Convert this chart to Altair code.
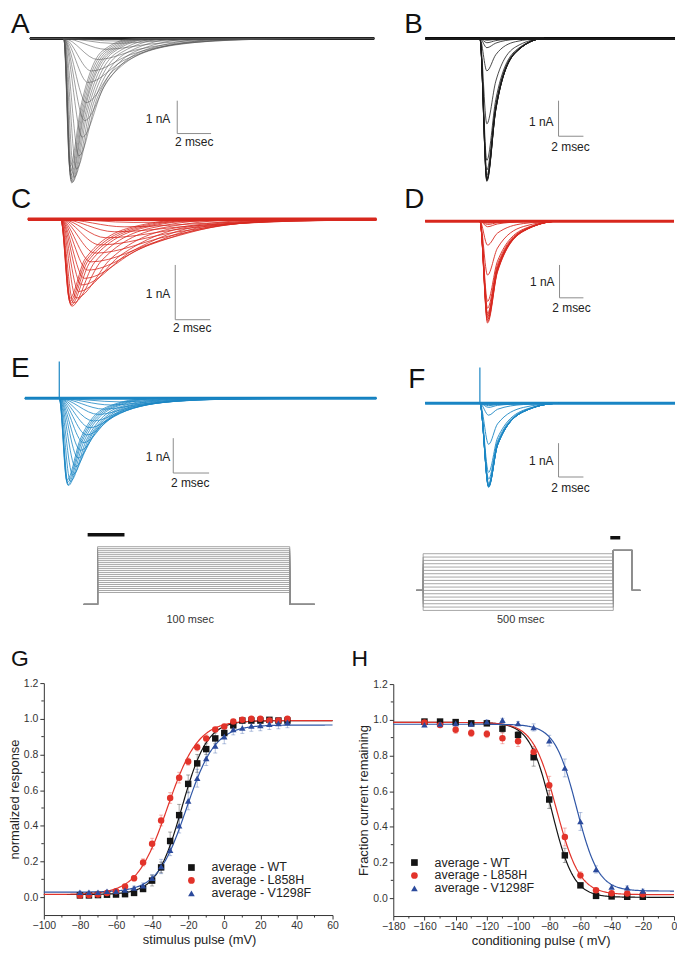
import altair as alt
import numpy as np
import pandas as pd

FONT = "Liberation Sans"

# ======================= DATA =======================
# Activation families (A, C, E): one entry per trace
# peak time after onset (ms), peak inward current (nA),
# time from peak to half decay (ms), time from peak to 10 % (ms)
A_peak_ms = [3.4, 3.2, 2.9, 2.5, 2.0, 1.63, 1.43, 1.33, 1.23, 1.1, 0.9, 0.75, 0.62, 0.52, 0.47, 0.44, 0.42, 0.40, 0.38, 0.36]
A_peak_nA = [0.04, 0.08, 0.15, 0.33, 0.64, 0.99, 1.34, 1.95, 2.5, 3.0, 3.57, 3.97, 4.22, 4.37, 4.40, 4.35, 4.28, 4.18, 4.05, 3.9]
A_half_ms = [3.0, 3.0, 2.9, 2.7, 2.5, 2.3, 2.1, 1.6, 1.4, 1.25, 1.1, 1.0, 0.95, 0.9, 0.85, 0.8, 0.78, 0.75, 0.72, 0.7]
A_tenth_ms = [8.0, 8.0, 7.5, 7.0, 6.8, 6.5, 6.0, 5.3, 4.6, 4.0, 3.5, 3.1, 2.8, 2.6, 2.4, 2.3, 2.2, 2.1, 2.0, 1.9]

C_peak_ms = [4.2, 3.64, 3.07, 2.59, 2.25, 1.98, 1.73, 1.54, 1.35, 1.2, 1.03, 0.88, 0.72, 0.63, 0.58, 0.55, 0.52, 0.5]
C_peak_nA = [0.06, 0.14, 0.23, 0.34, 0.47, 0.62, 0.78, 0.93, 1.08, 1.2, 1.32, 1.44, 1.53, 1.59, 1.57, 1.54, 1.5, 1.45]
C_half_ms = [5.0, 5.0, 4.8, 4.6, 4.4, 4.2, 4.0, 3.6, 3.2, 2.8, 2.4, 2.0, 1.6, 1.3, 1.1, 1.0, 0.95, 0.9]
C_tenth_ms = [11, 11, 10.5, 10, 9.5, 9, 8.5, 8, 7.5, 7, 6.5, 6, 5.2, 4.6, 4.2, 4.0, 3.8, 3.6]

E_peak_ms = [3.34, 2.88, 2.51, 2.18, 1.9, 1.71, 1.53, 1.36, 1.19, 1.05, 0.9, 0.75, 0.62, 0.51, 0.47, 0.44, 0.42]
E_peak_nA = [0.1, 0.19, 0.31, 0.46, 0.65, 0.84, 1.05, 1.27, 1.49, 1.71, 1.96, 2.19, 2.38, 2.5, 2.48, 2.42, 2.35]
E_half_ms = [2.4, 2.3, 2.2, 2.0, 1.8, 1.65, 1.5, 1.35, 1.2, 1.1, 1.0, 0.95, 0.9, 0.85, 0.8, 0.78, 0.75]
E_tenth_ms = [6.5, 6.3, 6.0, 5.6, 5.2, 4.8, 4.5, 4.2, 3.8, 3.5, 3.2, 3.0, 2.8, 2.6, 2.5, 2.4, 2.3]
E_spike_nA = 1.06

# Inactivation families (B, D, F): peak per trace, one shared time course
# shape = [peak time after onset, peak->half, peak->10 %] (ms)
B_peak_nA = [4.02, 4.0, 3.98, 3.96, 3.94, 3.85, 3.7, 3.43, 2.4, 0.91, 0.26, 0.12, 0.05, 0.03, 0.02]
B_shape_ms = [0.56, 0.72, 2.3]
D_peak_nA = [3.1, 3.05, 3.0, 2.95, 2.9, 2.85, 2.8, 2.65, 2.44, 1.64, 0.73, 0.17, 0.1, 0.06, 0.04]
D_shape_ms = [0.64, 0.83, 3.0]
F_peak_nA = [2.48, 2.47, 2.46, 2.45, 2.44, 2.43, 2.42, 2.36, 2.24, 2.04, 1.21, 0.35, 0.12, 0.07, 0.04]
F_shape_ms = [0.70, 0.72, 2.8]
F_spike_nA = 1.06

SCALE_NA = 1.0
SCALE_MS = 2.0

# Voltage protocols
P1_steps_mV = [-80, -75, -70, -65, -60, -55, -50, -45, -40, -35, -30, -25, -20, -15, -10, -5, 0, 5, 10, 15, 20, 25, 30, 35]
P1_hold_mV = -110
P1_step_ms = 100
P1_pre_ms, P1_post_ms = 7.25, 13.0
P2_cond_mV = [-160, -150, -140, -130, -120, -110, -100, -90, -80, -70, -60, -50, -40, -30, -20, -10, 0, 10]
P2_hold_mV = -100
P2_cond_ms = 500
P2_test_mV = 20
P2_test_ms = 50
P2_pre_ms, P2_post_ms = 18.0, 21.0

# G: activation (normalized response)
G_mV = [-80, -75, -70, -65, -60, -55, -50, -45, -40, -35, -30, -25, -20, -15, -10, -5, 0, 5, 10, 15, 20, 25, 30, 35]
G_WT = [0.01, 0.01, 0.012, 0.014, 0.015, 0.017, 0.024, 0.046, 0.093, 0.167, 0.315, 0.46, 0.635, 0.75, 0.83, 0.89, 0.92, 0.963, 0.99, 0.99, 0.99, 0.994, 0.99, 0.99]
G_L858H = [0.01, 0.012, 0.015, 0.024, 0.033, 0.06, 0.106, 0.195, 0.30, 0.43, 0.556, 0.67, 0.76, 0.84, 0.89, 0.94, 0.957, 0.985, 0.994, 1.0, 1.0, 0.99, 0.99, 1.0]
G_V1298F = [0.028, 0.028, 0.028, 0.033, 0.033, 0.04, 0.052, 0.065, 0.107, 0.172, 0.263, 0.40, 0.54, 0.667, 0.778, 0.848, 0.90, 0.94, 0.948, 0.96, 0.963, 0.97, 0.974, 0.98]
G_WT_err = [0.005, 0.005, 0.005, 0.005, 0.005, 0.005, 0.008, 0.01, 0.03, 0.03, 0.05, 0.06, 0.05, 0.05, 0.03, 0.03, 0.03, 0.02, 0.01, 0.01, 0.01, 0.01, 0.01, 0.01]
G_L858H_err = [0.005, 0.005, 0.005, 0.005, 0.008, 0.01, 0.015, 0.02, 0.03, 0.03, 0.03, 0.03, 0.02, 0.02, 0.02, 0.01, 0.01, 0.01, 0.01, 0.01, 0.01, 0.01, 0.01, 0.01]
G_V1298F_err = [0.005, 0.005, 0.005, 0.005, 0.005, 0.008, 0.01, 0.015, 0.02, 0.04, 0.03, 0.04, 0.05, 0.05, 0.04, 0.04, 0.04, 0.03, 0.03, 0.03, 0.03, 0.03, 0.03, 0.03]
G_fit_half_mV = [-23.5, -31.5, -21.0]
G_fit_slope_mV = [7.0, 8.5, 8.0]
G_fit_bottom = [0.015, 0.015, 0.028]
G_fit_top = [0.99, 0.99, 0.965]

# H: steady-state inactivation
H_mV = [-160, -150, -140, -130, -120, -110, -100, -90, -80, -70, -60, -50, -40, -30, -20]
H_WT = [0.99, 0.99, 0.987, 0.98, 0.98, 0.95, 0.915, 0.79, 0.553, 0.24, 0.072, 0.013, 0.01, 0.008, 0.008]
H_L858H = [0.985, 0.97, 0.944, 0.926, 0.92, 0.896, 0.88, 0.82, 0.633, 0.343, 0.128, 0.044, 0.028, 0.026, 0.022]
H_V1298F = [0.972, 0.976, 0.98, 0.976, 0.989, 0.998, 0.98, 0.957, 0.883, 0.73, 0.43, 0.161, 0.063, 0.059, 0.041]
H_WT_err = [0.01, 0.01, 0.01, 0.01, 0.01, 0.02, 0.02, 0.05, 0.05, 0.04, 0.01, 0.005, 0.005, 0.005, 0.005]
H_L858H_err = [0.01, 0.01, 0.02, 0.02, 0.02, 0.03, 0.03, 0.03, 0.05, 0.05, 0.02, 0.01, 0.01, 0.01, 0.01]
H_V1298F_err = [0.01, 0.01, 0.01, 0.01, 0.01, 0.01, 0.01, 0.02, 0.03, 0.05, 0.05, 0.02, 0.01, 0.01, 0.01]
H_fit_half_mV = [-78.5, -75.5, -62.5]
H_fit_slope_mV = [7.0, 7.5, 7.0]
H_fit_bottom = [0.005, 0.02, 0.04]
H_fit_top = [0.985, 0.985, 0.975]

NAMES = ["average - WT", "average - L858H", "average - V1298F"]
CODES = ["wt", "l858h", "v1298f"]
PT_COLORS = ["#141414", "#e2332a", "#2b4a9c"]
LINE_COLORS = ["#141414", "#e2332a", "#2f56a6"]
SHAPES = ["square", "circle", "triangle-up"]

# ======================= LAYOUT (page pixels) =======================
FRAME_W, FRAME_H = 669, 937
OX, OY = 8, 8

LAY = {
    "A": dict(start=27, onset=61, end=373, s=17.0, base=32.5, p=33.0, bar=(175, 95), na=(168, 113), ms=(192, 137), letter=(8, 27)),
    "B": dict(start=424, onset=479, end=675, s=12.5, base=32.5, p=35.7, bar=(558, 95), na=(553, 116), ms=(570, 142), letter=(403, 27)),
    "C": dict(start=25, onset=58, end=375, s=17.5, base=214, p=55.0, bar=(173, 260), na=(168, 289), ms=(190, 323), letter=(8, 203)),
    "D": dict(start=424, onset=479, end=674, s=12.0, base=216, p=33.0, bar=(559, 260), na=(554, 277), ms=(571, 303), letter=(403, 203)),
    "E": dict(start=22, onset=56.5, end=375, s=18.0, base=394, p=35.0, bar=(171, 434), na=(168, 453), ms=(188, 479), letter=(8, 373)),
    "F": dict(start=424, onset=479, end=675, s=12.5, base=399, p=34.0, bar=(558, 439), na=(553, 457), ms=(570, 484), letter=(407, 384)),
}
P1 = dict(x0=95, s=1.93, y0=557, p=0.4, bar=(85, 122, 531), label=(188, 617))
P2 = dict(x0=422, s=0.382, y0=553.4, p=0.335, bar=(610, 620, 534), label=(520, 617))
# dose-response panels: plot rectangle (page px), letter, legend top-left, x-title centre
GL = dict(x=(41, 331), y=(913, 680), letter=(8, 663), legend=(183, 859), titlex=197)
HL = dict(x=(392, 674), y=(914, 681), letter=(350, 663), legend=(407, 854), titlex=540)


def xscale(x0, s):
    return alt.Scale(domain=[(OX - x0) / s, (OX + FRAME_W - x0) / s], nice=False, zero=False)


def yscale(y0, p):
    return alt.Scale(domain=[(y0 - (OY + FRAME_H)) / p, (y0 - OY) / p], nice=False, zero=False)


def family(peak_ms, peak_nA, half_ms, tenth_ms, onset, end):
    rows = []
    for k, (tp, a, th, t10) in enumerate(zip(peak_ms, peak_nA, half_ms, tenth_ms)):
        tpk = onset + tp
        pts = [(0.0, 0.0), (onset, 0.0), (tpk, -a), (tpk + th, -a / 2), (tpk + t10, -a / 10)]
        tz = tpk + 2 * t10
        if tz < end:
            pts += [(tz, 0.0), (end, 0.0)]
        else:
            pts += [(end, -a / 10 * (tz - end) / t10)]
        for i, (t, v) in enumerate(pts):
            if t <= end + 1e-9:
                rows.append(dict(trace=k, i=i, t=t, v=v))
    return pd.DataFrame(rows)


def trace_panel(key, df, color, lw, band_color, band_w, letter, spike=None):
    L = LAY[key]
    xs = xscale(L["start"], L["s"])
    ys = yscale(L["base"], L["p"])
    tx = lambda px: (px - L["start"]) / L["s"]
    vy = lambda py: (L["base"] - py) / L["p"]
    X = lambda f: alt.X(f, type="quantitative", scale=xs, axis=None)
    Y = lambda f: alt.Y(f, type="quantitative", scale=ys, axis=None)
    end = tx(L["end"])
    onset = tx(L["onset"])

    band = alt.Chart(pd.DataFrame({"t0": [0.0], "t1": [end], "v": [0.0]})).mark_rule(
        color=band_color, strokeWidth=band_w).encode(x=X("t0"), x2="t1", y=Y("v"))
    lines = alt.Chart(df).mark_line(interpolate="monotone", color=color, strokeWidth=lw).encode(
        x=X("t"), y=Y("v"), detail="trace:N", order="i:Q")
    layers = [band, lines]
    if spike is not None:
        sp = alt.Chart(pd.DataFrame({"t": [onset], "v0": [0.0], "v1": [spike]})).mark_rule(
            color=band_color, strokeWidth=1.2).encode(x=X("t"), y=Y("v0"), y2="v1")
        layers.append(sp)
    bt, bv = tx(L["bar"][0]), vy(L["bar"][1])
    bars = pd.DataFrame({"x": [bt, bt], "x2": [bt, bt + SCALE_MS],
                         "y": [bv, bv - SCALE_NA], "y2": [bv - SCALE_NA, bv - SCALE_NA]})
    layers.append(alt.Chart(bars).mark_rule(color="#8c8c8c", strokeWidth=1).encode(
        x=X("x"), x2="x2", y=Y("y"), y2="y2"))
    t1 = pd.DataFrame({"x": [tx(L["na"][0])], "y": [vy(L["na"][1])], "s": ["1 nA"]})
    t2 = pd.DataFrame({"x": [tx(L["ms"][0])], "y": [vy(L["ms"][1])], "s": ["2 msec"]})
    t3 = pd.DataFrame({"x": [tx(L["letter"][0])], "y": [vy(L["letter"][1])], "s": [letter]})
    layers.append(alt.Chart(t1).mark_text(align="right", baseline="middle", font=FONT, fontSize=12,
                                          color="#222").encode(x=X("x"), y=Y("y"), text="s:N"))
    layers.append(alt.Chart(t2).mark_text(align="center", baseline="middle", font=FONT, fontSize=12,
                                          color="#222").encode(x=X("x"), y=Y("y"), text="s:N"))
    layers.append(alt.Chart(t3).mark_text(align="left", baseline="alphabetic", font=FONT, fontSize=28,
                                          color="#111").encode(x=X("x"), y=Y("y"), text="s:N"))
    return alt.layer(*layers)


def protocol_panel(P, df, label):
    xs = xscale(P["x0"], P["s"])
    ys = yscale(P["y0"], P["p"])
    tx = lambda px: (px - P["x0"]) / P["s"]
    vy = lambda py: (P["y0"] - py) / P["p"]
    X = lambda f: alt.X(f, type="quantitative", scale=xs, axis=None)
    Y = lambda f: alt.Y(f, type="quantitative", scale=ys, axis=None)
    lines = alt.Chart(df).mark_line(color="#8f8f8f", strokeWidth=0.8).encode(
        x=X("t"), y=Y("v"), detail="k:N", order="i:Q")
    b = P["bar"]
    bar = alt.Chart(pd.DataFrame({"t0": [tx(b[0])], "t1": [tx(b[1])], "v": [vy(b[2])]})).mark_rule(
        color="#111", strokeWidth=3.5).encode(x=X("t0"), x2="t1", y=Y("v"))
    txt = alt.Chart(pd.DataFrame({"x": [tx(P["label"][0])], "y": [vy(P["label"][1])], "s": [label]})).mark_text(
        align="center", baseline="middle", font=FONT, fontSize=11, color="#333").encode(
        x=X("x"), y=Y("y"), text="s:N")
    return alt.layer(lines, bar, txt)


# ---- build trace tables ----
def on_end(key):
    L = LAY[key]
    return (L["onset"] - L["start"]) / L["s"], (L["end"] - L["start"]) / L["s"]


dfA = family(A_peak_ms, A_peak_nA, A_half_ms, A_tenth_ms, *on_end("A"))
dfC = family(C_peak_ms, C_peak_nA, C_half_ms, C_tenth_ms, *on_end("C"))
dfE = family(E_peak_ms, E_peak_nA, E_half_ms, E_tenth_ms, *on_end("E"))


def inact(peaks, shape, key):
    n = len(peaks)
    return family([shape[0]] * n, peaks, [shape[1]] * n, [shape[2]] * n, *on_end(key))


dfB = inact(B_peak_nA, B_shape_ms, "B")
dfD = inact(D_peak_nA, D_shape_ms, "D")
dfF = inact(F_peak_nA, F_shape_ms, "F")

rows = []
for k, V in enumerate(P1_steps_mV):
    pts = [(-P1_pre_ms, P1_hold_mV), (0, P1_hold_mV), (0, V), (P1_step_ms, V),
           (P1_step_ms, P1_hold_mV), (P1_step_ms + P1_post_ms, P1_hold_mV)]
    rows += [dict(k=k, i=i, t=t, v=v) for i, (t, v) in enumerate(pts)]
dfP1 = pd.DataFrame(rows)
rows = []
tend = P2_cond_ms + P2_test_ms
for k, V in enumerate(P2_cond_mV):
    pts = [(-P2_pre_ms, P2_hold_mV), (0, P2_hold_mV), (0, V), (P2_cond_ms, V), (P2_cond_ms, P2_test_mV),
           (tend, P2_test_mV), (tend, P2_hold_mV), (tend + P2_post_ms, P2_hold_mV)]
    rows += [dict(k=k, i=i, t=t, v=v) for i, (t, v) in enumerate(pts)]
dfP2 = pd.DataFrame(rows)

# ======================= G / H =======================
Y_MINOR = [0.1, 0.3, 0.5, 0.7, 0.9, 1.1]
Y_DOM = [-0.1, 1.2]


def iv_panel(Lo, x_mV, ys, errs, fh, fk, fb, ft, rising, xdom, xticks, xminor, xtitle, ytitle, letter):
    x0, x1 = Lo["x"][0] - OX, Lo["x"][1] - OX
    yb, yt = Lo["y"][0] - OY, Lo["y"][1] - OY
    pts = pd.DataFrame([dict(series=n, code=c, x=x, y=y, lo=y - e, hi=y + e)
                        for n, c, yy, ee in zip(NAMES, CODES, ys, errs) for x, y, e in zip(x_mV, yy, ee)])
    grid = np.linspace(xdom[0], xdom[1], 321)
    fr = []
    for c, v12, k, b, t in zip(CODES, fh, fk, fb, ft):
        z = (v12 - grid) / k if rising else (grid - v12) / k
        yv = b + (t - b) / (1 + np.exp(z))
        fr += [dict(code=c, x=float(g), y=float(y)) for g, y in zip(grid, yv)]
    fit = pd.DataFrame(fr)
    xs = alt.Scale(domain=xdom, range=[x0, x1], nice=False, zero=False)
    ysc = alt.Scale(domain=Y_DOM, range=[yb, yt], nice=False, zero=False)
    common = dict(domainColor="#333", domainWidth=1, tickColor="#333", tickWidth=1, tickSize=4,
                  labelFont=FONT, labelFontSize=10.5, labelColor="#333", titleFont=FONT, titleFontSize=13,
                  titleFontWeight="normal", titleColor="#222", grid=False, labelPadding=2, labelOverlap=False)
    xax = alt.Axis(values=xticks, title=xtitle, titlePadding=2, labelFlush=False, orient="bottom",
                   offset=yb - FRAME_H, titleX=Lo["titlex"] - OX, **common)
    yax = alt.Axis(values=[0, 0.2, 0.4, 0.6, 0.8, 1.0, 1.2], format=".1f", title=ytitle, titlePadding=2,
                   orient="left", offset=-x0, **common)
    XA = lambda f: alt.X(f, type="quantitative", scale=xs, axis=xax)
    YA = lambda f: alt.Y(f, type="quantitative", scale=ysc, axis=yax)
    stroke = alt.Stroke("code:N", scale=alt.Scale(domain=CODES, range=LINE_COLORS), legend=None)
    cap = 2.0 * (xdom[1] - xdom[0]) / (x1 - x0)
    err = alt.Chart(pts).mark_rule(strokeWidth=0.8, opacity=0.45).encode(
        x=XA("x"), y=YA("lo"), y2="hi", stroke=stroke)
    caps = alt.Chart(pts).transform_calculate(xa=f"datum.x - {cap}", xb=f"datum.x + {cap}").transform_fold(
        ["lo", "hi"], as_=["end", "yv"]).mark_rule(strokeWidth=0.8, opacity=0.45).encode(
        x=XA("xa:Q"), x2="xb:Q", y=YA("yv:Q"), stroke=stroke)
    lines = alt.Chart(fit).mark_line(strokeWidth=1.2).encode(x=XA("x"), y=YA("y"), stroke=stroke)
    leg = alt.Legend(orient="none", legendX=Lo["legend"][0] - OX, legendY=Lo["legend"][1] - OY, title=None,
                     labelFont=FONT, labelFontSize=12.5, labelColor="#222", symbolSize=45, rowPadding=0,
                     labelOffset=14, padding=0, offset=0, symbolStrokeWidth=0)
    points = alt.Chart(pts).mark_point(filled=True, size=42, opacity=1).encode(
        x=XA("x"), y=YA("y"),
        color=alt.Color("series:N", scale=alt.Scale(domain=NAMES, range=PT_COLORS), legend=leg),
        shape=alt.Shape("series:N", scale=alt.Scale(domain=NAMES, range=SHAPES), legend=leg))
    ym = alt.Chart(pd.DataFrame({"m": Y_MINOR})).mark_rule(color="#333", strokeWidth=1).encode(
        y=YA("m"), x=alt.value(x0), x2=alt.value(x0 - 2.5))
    xm = alt.Chart(pd.DataFrame({"m": xminor})).mark_rule(color="#333", strokeWidth=1).encode(
        x=XA("m"), y=alt.value(yb), y2=alt.value(yb + 2.5))
    # panel letter, placed in the panel's own data coordinates
    lx = xdom[0] + (Lo["letter"][0] - OX - x0) * (xdom[1] - xdom[0]) / (x1 - x0)
    ly = Y_DOM[0] + (yb - (Lo["letter"][1] - OY)) * (Y_DOM[1] - Y_DOM[0]) / (yb - yt)
    lab = alt.Chart(pd.DataFrame({"x": [lx], "y": [ly], "s": [letter]})).mark_text(
        align="left", baseline="alphabetic", font=FONT, fontSize=23, color="#111").encode(
        x=XA("x"), y=YA("y"), text="s:N")
    return alt.layer(err, caps, lines, points, ym, xm, lab)


G = iv_panel(GL, G_mV, [G_WT, G_L858H, G_V1298F], [G_WT_err, G_L858H_err, G_V1298F_err],
             G_fit_half_mV, G_fit_slope_mV, G_fit_bottom, G_fit_top, True,
             [-100, 60], [-100, -80, -60, -40, -20, 0, 20, 40, 60], [-90, -70, -50, -30, -10, 10, 30, 50],
             "stimulus pulse (mV)", "normalized response", "G")
H = iv_panel(HL, H_mV, [H_WT, H_L858H, H_V1298F], [H_WT_err, H_L858H_err, H_V1298F_err],
             H_fit_half_mV, H_fit_slope_mV, H_fit_bottom, H_fit_top, False,
             [-180, 0], [-180, -160, -140, -120, -100, -80, -60, -40, -20, 0],
             [-170, -150, -130, -110, -90, -70, -50, -30, -10],
             "conditioning pulse ( mV)", "Fraction current remaining", "H")

RED, BLUE = "#d8281f", "#1b86c4"
chart = alt.layer(
    trace_panel("A", dfA, "#505050", 0.55, "#222222", 3, "A"),
    trace_panel("B", dfB, "#1a1a1a", 0.8, "#1a1a1a", 3, "B"),
    trace_panel("C", dfC, RED, 0.8, RED, 3.5, "C"),
    trace_panel("D", dfD, RED, 0.9, RED, 3, "D"),
    trace_panel("E", dfE, BLUE, 0.8, BLUE, 3, "E", spike=E_spike_nA),
    trace_panel("F", dfF, BLUE, 0.9, BLUE, 3, "F", spike=F_spike_nA),
    protocol_panel(P1, dfP1, "100 msec"),
    protocol_panel(P2, dfP2, "500 msec"),
    G, H,
).resolve_scale(
    x="independent", y="independent", color="independent", shape="independent", stroke="independent"
).resolve_legend(color="independent", shape="independent").properties(
    width=FRAME_W, height=FRAME_H, padding=0).configure_view(stroke=None)

chart.save("out.html", embed_options={"renderer": "svg", "actions": False})
